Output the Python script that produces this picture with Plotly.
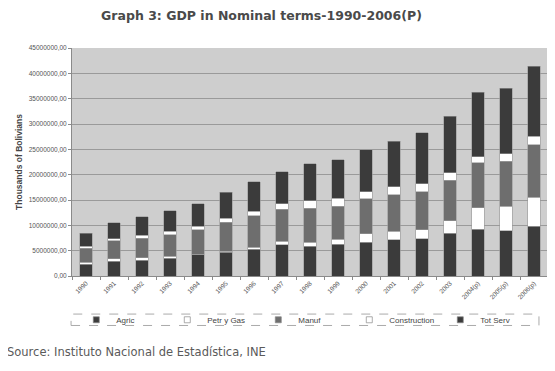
import plotly.graph_objects as go

years = ["1990", "1991", "1992", "1993", "1994", "1995", "1996", "1997", "1998",
         "1999", "2000", "2001", "2002", "2003", "2004(p)", "2005(p)", "2006(p)"]

agric = [2.30, 2.89, 3.15, 3.48, 4.27, 4.67, 5.31, 6.18, 5.91, 6.30, 6.63, 7.17, 7.36, 8.41, 9.25, 8.94, 9.84]
petr_gas = [0.46, 0.54, 0.47, 0.46, 0.05, 0.25, 0.34, 0.65, 0.78, 0.92, 1.72, 1.63, 1.77, 2.50, 4.21, 4.78, 5.71]
manuf = [2.75, 3.54, 3.86, 4.21, 4.79, 5.65, 6.24, 6.30, 6.64, 6.56, 6.89, 7.22, 7.48, 7.99, 8.86, 8.92, 10.32]
construction = [0.40, 0.39, 0.53, 0.71, 0.72, 0.79, 0.91, 1.12, 1.57, 1.57, 1.43, 1.58, 1.64, 1.45, 1.24, 1.45, 1.69]
tot_serv = [2.50, 3.15, 3.68, 4.01, 4.47, 5.18, 5.84, 6.36, 7.29, 7.56, 8.27, 8.97, 10.04, 11.22, 12.66, 13.00, 13.86]

series_names = ["Agric", "Petr y Gas", "Manuf", "Construction", "Tot Serv"]
series_values = [agric, petr_gas, manuf, construction, tot_serv]
series_colors = ["#3b3b3b", "#ffffff", "#6e6e6e", "#ffffff", "#3b3b3b"]

y_ticks = [0, 5e6, 10e6, 15e6, 20e6, 25e6, 30e6, 35e6, 40e6, 45e6]

fig = go.Figure()
for name, vals, col in zip(series_names, series_values, series_colors):
    fig.add_trace(go.Bar(
        x=years, y=[v * 1e6 for v in vals], name=name,
        marker=dict(color=col, line=dict(color="#9a9a9a", width=0.6)),
        showlegend=False,
    ))
# legend entries (small square markers like the original)
for name, col in zip(series_names, series_colors):
    fig.add_trace(go.Scatter(
        x=[None], y=[None], mode="markers", name=name,
        marker=dict(symbol="square", size=6, color=col, line=dict(color="#888888", width=0.7)),
    ))

fig.update_layout(
    width=547, height=363,
    margin=dict(l=64, r=7, t=40, b=95, autoexpand=False),
    paper_bgcolor="white",
    plot_bgcolor="#cecece",
    barmode="stack",
    bargap=0.55,
    separators=",.",
    font=dict(family="Liberation Sans, Arial, sans-serif", color="#555555"),
    title=dict(text="Graph 3: GDP in Nominal terms-1990-2006(P)",
               x=0.4634, xref="container", xanchor="center",
               y=0.979, yref="container", yanchor="middle",
               font=dict(family="DejaVu Sans", size=12.5, color="#4a4a4a", weight="bold")),
    legend=dict(orientation="h", x=0.009, xanchor="left", y=-0.192, yanchor="middle",
                font=dict(size=8, color="#444444"), bgcolor="rgba(0,0,0,0)",
                traceorder="normal", entrywidth=46, itemwidth=30, tracegroupgap=0),
    xaxis=dict(type="category", tickangle=-45, tickfont=dict(size=6.5, color="#555555"),
               showline=True, linecolor="#8a8a8a", linewidth=1,
               ticks="outside", ticklen=3, tickcolor="#8a8a8a", tickson="boundaries",
               showgrid=False, automargin=False),
    yaxis=dict(range=[0, 45e6], tickvals=y_ticks, tickformat=".2f",
               tickfont=dict(size=6.5, color="#555555"),
               showgrid=True, gridcolor="#9a9a9a", gridwidth=1,
               showline=True, linecolor="#8a8a8a", linewidth=1,
               ticks="outside", ticklen=3, tickcolor="#8a8a8a",
               zeroline=False, automargin=False,
               title=dict(text="<b>Thousands of Bolivians</b>", font=dict(size=8.5, color="#444444"), standoff=4)),
    shapes=[dict(type="rect", xref="paper", yref="paper",
                 x0=-0.002, x1=0.981, y0=-0.217, y1=-0.167,
                 line=dict(color="#aaaaaa", width=1, dash="dash"))],
    annotations=[dict(text="Source: Instituto Nacional de Estadística, INE",
                      xref="paper", yref="paper", x=-0.141, y=-0.333,
                      xanchor="left", yanchor="middle", showarrow=False,
                      font=dict(family="DejaVu Sans", size=11.5, color="#5a5a5a"))],
)

fig.write_html("out.html")
